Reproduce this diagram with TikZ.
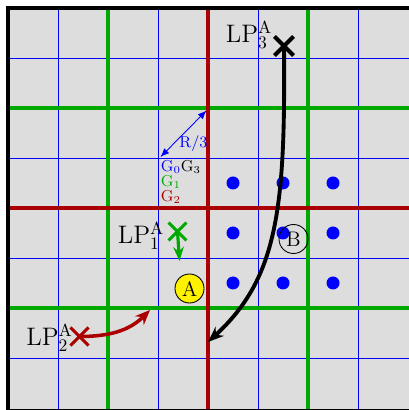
\documentclass[tikz,border=0pt]{standalone}
\usetikzlibrary{arrows.meta,shapes.misc}
\definecolor{bggray}{RGB}{221,221,221}
\definecolor{ggreen}{RGB}{0,168,0}
\definecolor{rred}{RGB}{170,0,0}
\definecolor{bblue}{RGB}{0,0,255}
\tikzset{
  bluegrid/.style={draw=bblue, line width=0.45pt},
  greengrid/.style={draw=ggreen, line width=2.3pt},
  redgrid/.style={draw=rred, line width=2.3pt},
  frameline/.style={draw=black, line width=2.8pt},
  dot/.style={circle, fill=bblue, inner sep=0pt, minimum size=0.26cm},
  xmark/.style={cross out, draw, minimum size=0.3cm, inner sep=0pt, line width=#1},
  lplabel/.style={font=\Large, inner sep=0pt},
  glabel/.style={font=\small, inner sep=0pt, anchor=west},
  circlab/.style={circle, draw=black, line width=0.5pt, minimum size=0.58cm, inner sep=0pt, font=\large}
}
\begin{document}
\begin{tikzpicture}
\useasboundingbox (-0.16,-0.04) rectangle (8.02,8.16);
\fill[bggray] (0,-0.1) rectangle (8.1,8);
% grid
\foreach \k in {1,3,5,7} {
  \draw[bluegrid] (\k,-0.1) -- (\k,8);
  \draw[bluegrid] (0,\k) -- (8.1,\k);
}
\foreach \k in {2,6} {
  \draw[greengrid] (\k,-0.1) -- (\k,8);
  \draw[greengrid] (0,\k) -- (8.1,\k);
}
\draw[redgrid] (4,-0.1) -- (4,8);
\draw[redgrid] (0,4) -- (8.1,4);
\draw[frameline] (0,-0.06) rectangle (8.1,8);
% dots
\foreach \x in {4.5,5.5,6.5} \foreach \y in {2.5,3.5,4.5} \node[dot] at (\x,\y) {};
% R/3
\coordinate (r1) at (3.05,5.02);
\coordinate (r2) at (3.97,5.95);
\draw[bblue, line width=0.5pt, {Latex[length=5pt,width=4pt]}-{Latex[length=5pt,width=4pt]}] (r1) -- (r2);
\node[font=\small, text=bblue, inner sep=0pt] (rl) at (3.71,5.28) {R/3};
% G labels
\node[glabel, text=bblue] (g0) at (3.05,4.82) {G$_0$};
\node[glabel, text=black] (g3) at (3.45,4.82) {G$_3$};
\node[glabel, text=ggreen] (g1) at (3.05,4.52) {G$_1$};
\node[glabel, text=rred] (g2) at (3.05,4.22) {G$_2$};
% circles A, B
\node[circlab, fill=yellow] (A) at (3.63,2.39) {A};
\node[circlab] (B) at (5.71,3.38) {B};
% LP3
\node[xmark=2.3pt, draw=black] (lp3) at (5.52,7.24) {};
\node[lplabel] (lp3l) at (4.82,7.46) {LP$^{\mathrm{A}}_{3}$};
\coordinate (e3) at (4.0,1.32);
\draw[line width=2.2pt, -{Stealth[length=9pt,width=7pt]}] (lp3.center) .. controls (5.55,4.0) and (5.4,2.6) .. (e3);
% LP1
\node[xmark=1.7pt, draw=ggreen] (lp1) at (3.39,3.53) {};
\node[lplabel] (lp1l) at (2.66,3.44) {LP$^{\mathrm{A}}_{1}$};
\coordinate (e1) at (3.43,2.94);
\draw[ggreen, line width=1.8pt, -{Stealth[length=8pt,width=6pt]}] (lp1.center) -- (e1);
% LP2
\node[xmark=1.8pt, draw=rred] (lp2) at (1.43,1.43) {};
\node[lplabel] (lp2l) at (0.83,1.4) {LP$^{\mathrm{A}}_{2}$};
\coordinate (e2) at (2.84,1.96);
\draw[rred, line width=2pt, -{Stealth[length=8.5pt,width=7pt]}] (lp2.center) to[out=0,in=-135] (e2);
\end{tikzpicture}
\end{document}
